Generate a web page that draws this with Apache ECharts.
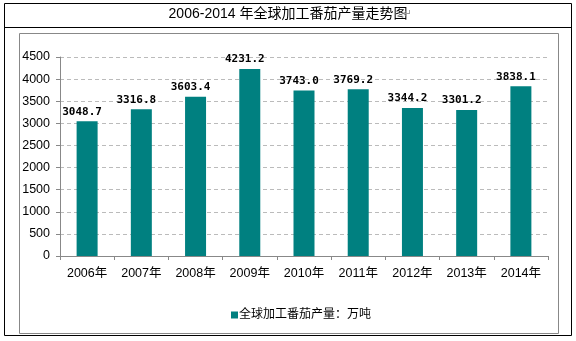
<!DOCTYPE html>
<html>
<head>
<meta charset="utf-8">
<script src="https://cdn.jsdelivr.net/npm/echarts@6/dist/echarts.min.js"></script>
<style>html,body{margin:0;padding:0;background:#fff;}#c{width:576px;height:341px;}</style>
</head>
<body>
<div id="c"></div>
<script>
var titleText = '2006-2014 年全球加工番茄产量走势图';
var seriesName = '全球加工番茄产量：万吨';
var categories = ['2006年','2007年','2008年','2009年','2010年','2011年','2012年','2013年','2014年'];
var values = [3048.7, 3316.8, 3603.4, 4231.2, 3743.0, 3769.2, 3344.2, 3301.2, 3838.1];
var yTicks = [0, 500, 1000, 1500, 2000, 2500, 3000, 3500, 4000, 4500];

var chart = echarts.init(document.getElementById('c'), null, {renderer: 'canvas'});
var font = '"Liberation Sans", "Noto Sans CJK SC", sans-serif';
chart.setOption({
  animation: false,
  backgroundColor: '#fff',
  graphic: [
    {type: 'rect', shape: {x: 4.5, y: 3.5, width: 567, height: 332}, style: {fill: 'none', stroke: '#000', lineWidth: 1}, z: 0},
    {type: 'line', shape: {x1: 4.5, y1: 27.5, x2: 571.5, y2: 27.5}, style: {stroke: '#000', lineWidth: 1}},
    {type: 'rect', shape: {x: 19.5, y: 33.5, width: 539, height: 300}, style: {fill: 'none', stroke: '#888', lineWidth: 1}},
    {type: 'text', left: 'center', top: 7, style: {text: titleText, font: '14px "Liberation Sans", "Noto Sans CJK SC", sans-serif', fill: '#000'}},
    {type: 'text', left: 403, top: 9, style: {text: '↵', font: '11px "DejaVu Sans", sans-serif', fill: '#999'}}
  ],
  legend: {
    data: [seriesName],
    left: 226, top: 304,
    icon: 'rect', itemWidth: 7, itemHeight: 7, itemGap: 4,
    textStyle: {fontSize: 12, color: '#000', fontFamily: font, padding: [0,0,0,-4]}
  },
  grid: {left: 60, right: 28, top: 57, bottom: 85},
  xAxis: {
    type: 'category', data: categories,
    axisLine: {lineStyle: {color: '#888'}},
    axisTick: {show: true, length: 4, lineStyle: {color: '#888'}},
    axisLabel: {color: '#000', fontSize: 12.5, fontFamily: font, margin: 11}
  },
  yAxis: {
    type: 'value', min: 0, max: 4500, interval: 500,
    axisLine: {show: true, lineStyle: {color: '#888'}},
    axisTick: {show: true, length: 4, lineStyle: {color: '#888'}},
    axisLabel: {color: '#000', fontSize: 12.5, fontFamily: font, margin: 10,
      formatter: function(v){ return yTicks.indexOf(v) >= 0 ? String(v) : ''; }},
    splitLine: {lineStyle: {color: '#bbb', type: [4, 3]}}
  },
  series: [{
    name: seriesName, type: 'bar', data: values, barWidth: 21,
    itemStyle: {color: '#008080'},
    label: {show: true, position: 'top', distance: 4, offset: [-5, 0],
      formatter: function(p){ return p.value.toFixed(1); },
      fontFamily: '"DejaVu Sans Mono", monospace', fontWeight: 'bold', fontSize: 11, color: '#000'}
  }]
});
</script>
</body>
</html>
